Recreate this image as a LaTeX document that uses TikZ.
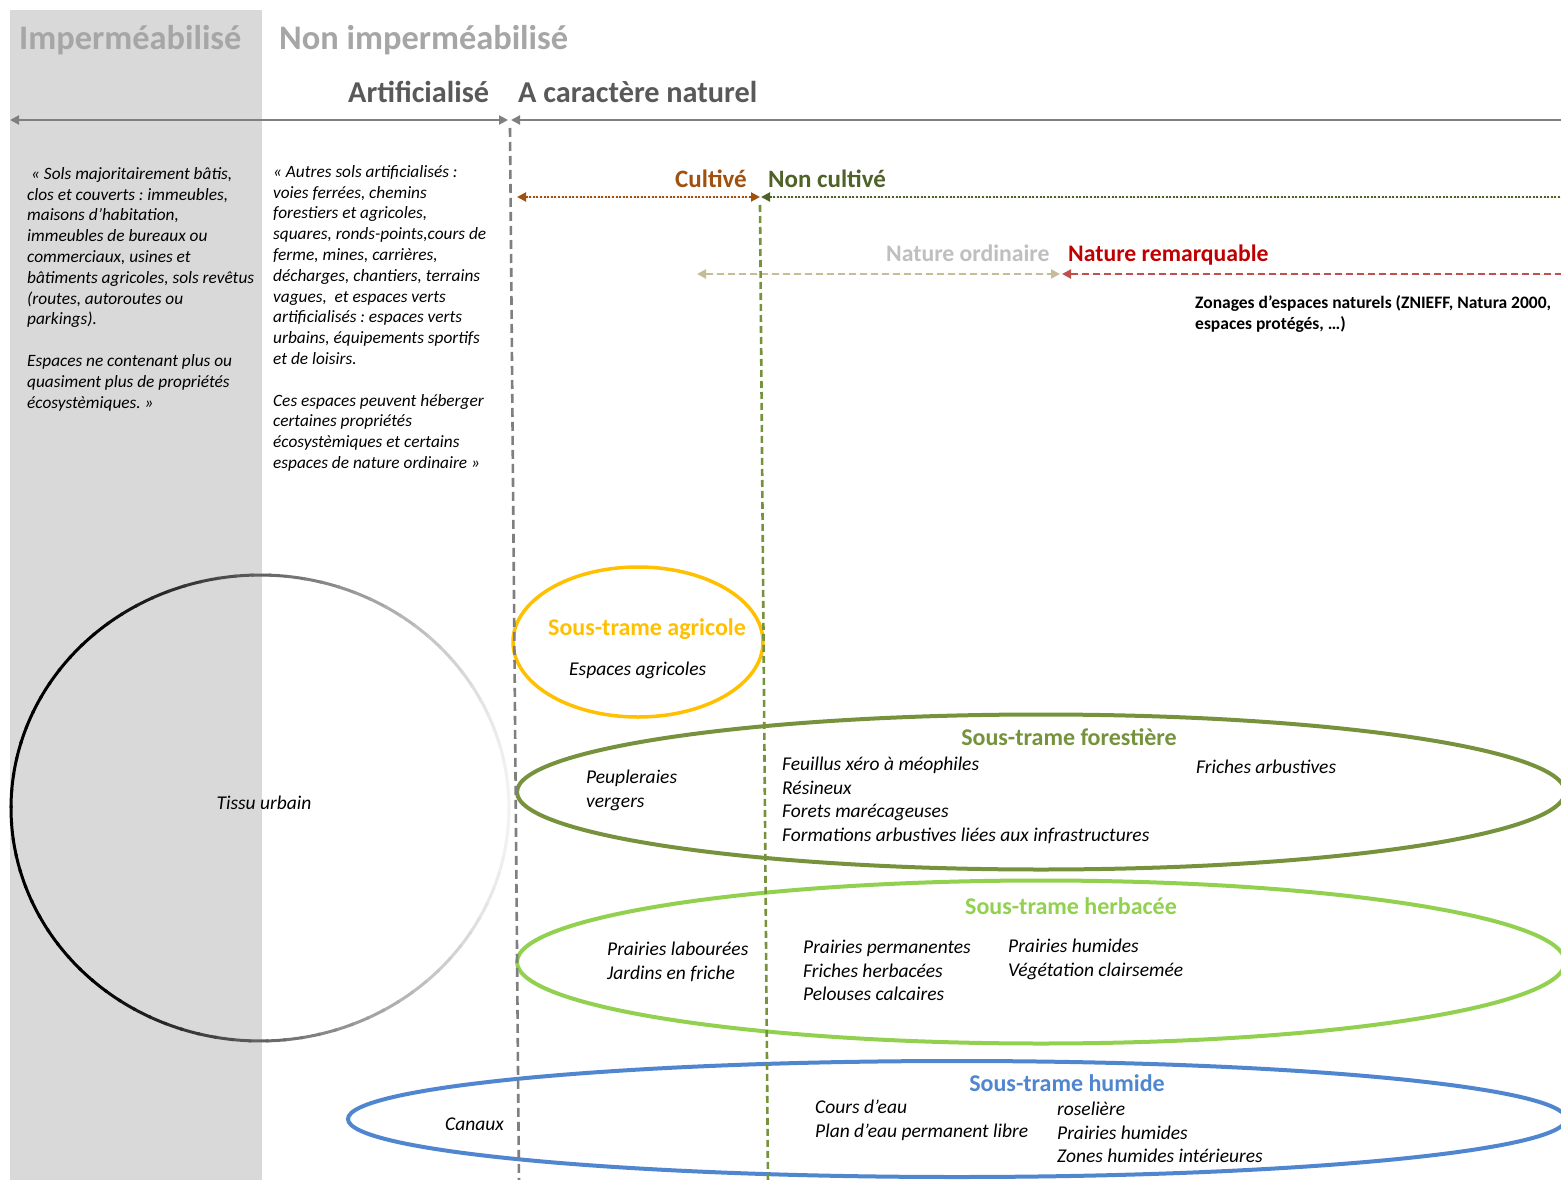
\documentclass[tikz,border=0pt]{standalone}
\usepackage{fontspec}
\setmainfont{Carlito}
\usetikzlibrary{arrows.meta,shapes.geometric}
\frenchspacing
\definecolor{bggray}{HTML}{D9D9D9}
\definecolor{hdrlight}{HTML}{A6A6A6}
\definecolor{hdrdark}{HTML}{595959}
\definecolor{arrgray}{HTML}{7F7F7F}
\definecolor{brownc}{HTML}{A0500F}
\definecolor{darkgreen}{HTML}{4F6228}
\definecolor{olive}{HTML}{76923C}
\definecolor{tan}{HTML}{C4BD97}
\definecolor{natord}{HTML}{BFBFBF}
\definecolor{natrem}{HTML}{C00000}
\definecolor{natremline}{HTML}{C0504D}
\definecolor{yellowc}{HTML}{FFC000}
\definecolor{herbgreen}{HTML}{92D050}
\definecolor{bluec}{HTML}{4F86CF}
\begin{document}
\begin{tikzpicture}[x=1pt,y=-1pt,
  >={Triangle[length=9pt,width=9pt]},
  every node/.append style={execute at begin node=\frenchspacing},
  bighdr/.style={font=\bfseries\fontsize{34.4}{40}\selectfont, anchor=base west, inner sep=0},
  midhdr/.style={font=\bfseries\fontsize{30.3}{36}\selectfont, text=hdrdark, anchor=base west, inner sep=0},
  smallhdr/.style={font=\bfseries\fontsize{25}{30}\selectfont, anchor=base west, inner sep=0},
  quote/.style={font=\itshape\fontsize{17.3}{20.8}\selectfont, align=left, anchor=north west, inner sep=0},
  item/.style={font=\itshape\fontsize{19.5}{23.6}\selectfont, align=left, anchor=north west, inner sep=0},
  ttl/.style={font=\bfseries\fontsize{24}{28}\selectfont, anchor=base, inner sep=0},
  zone/.style={ellipse, draw, line width=4pt, inner sep=0, fill=none},
  garrow/.style={draw=arrgray, line width=2pt},
  dotline/.style={line width=2pt, dash pattern=on 2pt off 1.6pt},
  dashline/.style={line width=2pt, dash pattern=on 7pt off 4pt},
  vdash/.style={line width=2.6pt, dash pattern=on 9pt off 5pt}
]
\useasboundingbox (0,0) rectangle (1561,1180);
\clip (0,0) rectangle (1561,1180);
\fill[white] (0,0) rectangle (1561,1180);
\fill[bggray] (10,10) rectangle (262,1180);

% headers
\node[bighdr, text=hdrlight] (himp) at (19,50) {Imperméabilisé};
\node[bighdr, text=hdrlight] (hnonimp) at (279,50) {Non imperméabilisé};
\node[midhdr] (hart) at (348,103) {Artificialisé};
\node[midhdr] (hnat) at (518,103) {A caractère naturel};
\node[smallhdr, text=brownc] (hcult) at (675,187) {Cultivé};
\node[smallhdr, text=darkgreen] (hnoncult) at (768,187) {Non cultivé};
\node[smallhdr, text=natord, font=\bfseries\fontsize{23.7}{28}\selectfont] (hord) at (886,261) {Nature ordinaire};
\node[smallhdr, text=natrem, font=\bfseries\fontsize{23.7}{28}\selectfont] (hrem) at (1068,261) {Nature remarquable};
\node[font=\bfseries\fontsize{17.5}{21}\selectfont, align=left, anchor=north west, inner sep=0] (zon) at (1195,295)
  {Zonages d’espaces naturels (ZNIEFF, Natura 2000,\\espaces protégés, …)};

% arrows
\coordinate (aL) at (10,120);
\coordinate (aM1) at (508,120);
\coordinate (aM2) at (511,120);
\coordinate (aR) at (1580,120);
\draw[garrow, <->] (aL) -- (aM1);
\draw[garrow, <-] (aM2) -- (aR);

\coordinate (cL) at (517,197);
\coordinate (cM) at (760,197);
\coordinate (cM2) at (761,197);
\coordinate (cR) at (1580,197);
\draw[dotline, draw=brownc, fill=brownc, <->] (cL) -- (cM);
\draw[dotline, draw=darkgreen, fill=darkgreen, <-] (cM2) -- (cR);

\coordinate (nL) at (697,274);
\coordinate (nM) at (1060,274);
\coordinate (nM2) at (1062,274);
\coordinate (nR) at (1580,274);
\draw[dashline, draw=tan, fill=tan, <->] (nL) -- (nM);
\draw[dashline, draw=natremline, fill=natremline, <-] (nM2) -- (nR);

% quotes
\node[quote] (q1) at (27,167) {\hspace{4pt}« Sols majoritairement bâtis,\\clos et couverts : immeubles,\\maisons d’habitation,\\immeubles de bureaux ou\\commerciaux, usines et\\bâtiments agricoles, sols revêtus\\(routes, autoroutes ou\\parkings).\\[20.8pt]Espaces ne contenant plus ou\\quasiment plus de propriétés\\écosystèmiques. »};
\node[quote] (q2) at (273,165) {« Autres sols artificialisés :\\voies ferrées, chemins\\forestiers et agricoles,\\squares, ronds-points,cours de\\ferme, mines, carrières,\\décharges, chantiers, terrains\\vagues,\ \ et espaces verts\\artificialisés : espaces verts\\urbains, équipements sportifs\\et de loisirs.\\[20.8pt]Ces espaces peuvent héberger\\certaines propriétés\\écosystèmiques et certains\\espaces de nature ordinaire »};

% urban circle with gradient stroke
\node[font=\itshape\fontsize{19.5}{22}\selectfont, inner sep=0] (tissu) at (264,803) {Tissu urbain};
\coordinate (uc) at (260,808);
\foreach \a in {0,4,...,356}{
  \pgfmathsetmacro\p{min(100,max(4,62-57*cos(\a+2)))}
  \draw[line width=3pt, draw=black!\p] (uc) ++(\a:249 and 233) arc[start angle=\a, end angle=\a+4.6, x radius=249, y radius=233];
}

% sub-networks
\node[zone, draw=yellowc, line width=3.5pt, minimum width=250, minimum height=150] (agri) at (638,642) {};
\node[zone, draw=olive, minimum width=1048, minimum height=155] (fore) at (1041,792) {};
\node[zone, draw=herbgreen, minimum width=1048, minimum height=163] (herb) at (1041,962) {};
\node[zone, draw=bluec, minimum width=1218, minimum height=116] (humi) at (957,1119) {};

\node[ttl, text=yellowc] (tagri) at (647,635) {Sous-trame agricole};
\node[item] (eagri) at (569,662) {Espaces agricoles};

\node[ttl, text=olive] (tfore) at (1069,745) {Sous-trame forestière};
\node[item] (f1) at (586,770) {Peupleraies\\vergers};
\node[item] (f2) at (782,757) {Feuillus xéro à méophiles\\Résineux\\Forets marécageuses\\Formations arbustives liées aux infrastructures};
\node[item] (f3) at (1196,760) {Friches arbustives};

\node[ttl, text=herbgreen] (therb) at (1071,914) {Sous-trame herbacée};
\node[item] (h1) at (607,942) {Prairies labourées\\Jardins en friche};
\node[item] (h2) at (803,940) {Prairies permanentes\\Friches herbacées\\Pelouses calcaires};
\node[item] (h3) at (1008,939) {Prairies humides\\Végétation clairsemée};

\node[ttl, text=bluec] (thumi) at (1067,1091) {Sous-trame humide};
\node[item] (u1) at (445,1118) {Canaux};
\node[item] (u2) at (815,1100) {Cours d’eau\\Plan d’eau permanent libre};
\node[item] (u3) at (1057,1102) {roselière\\Prairies humides\\Zones humides intérieures};

% vertical separators
\coordinate (vg1) at (510,128);
\coordinate (vg2) at (519,1185);
\coordinate (vv1) at (760,205);
\coordinate (vv2) at (768,1185);
\draw[vdash, draw=arrgray] (vg1) -- (vg2);
\draw[vdash, draw=olive, dash pattern=on 7pt off 4pt] (vv1) -- (vv2);
\end{tikzpicture}
\end{document}
